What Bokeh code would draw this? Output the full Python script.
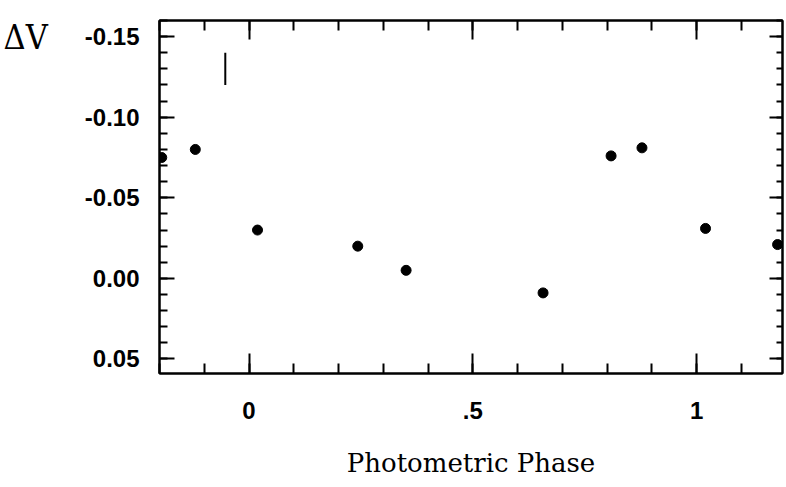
from bokeh.plotting import figure
from bokeh.models import (Range1d, LinearAxis, FixedTicker, NumeralTickFormatter,
                          CustomJSTickFormatter)
from bokeh.embed import file_html
from bokeh.resources import INLINE

# ---- data ----
phase = [-0.195, -0.120, 0.019, 0.243, 0.351, 0.657, 0.809, 0.878, 1.020, 1.181]
delta_v = [-0.075, -0.080, -0.030, -0.020, -0.005, 0.009, -0.076, -0.081, -0.031, -0.021]

err_phase = [-0.053]
err_top = [-0.140]
err_bottom = [-0.120]

x_major = [0.0, 0.5, 1.0]
x_minor = [-0.2, -0.1, 0.0, 0.1, 0.2, 0.3, 0.4, 0.5, 0.6, 0.7, 0.8, 0.9, 1.0, 1.1]
y_major = [-0.15, -0.10, -0.05, 0.00, 0.05]
y_minor = [-0.16, -0.15, -0.14, -0.13, -0.12, -0.11, -0.10, -0.09, -0.08, -0.07,
           -0.06, -0.05, -0.04, -0.03, -0.02, -0.01, 0.00, 0.01, 0.02, 0.03, 0.04, 0.05]

x_title = "Photometric Phase"
y_title = "\n\u0394V"

p = figure(width=786, height=487, output_backend="svg", toolbar_location=None,
           x_range=Range1d(-0.2, 1.192), y_range=Range1d(0.059, -0.160),
           min_border_left=156, min_border_right=4, min_border_top=20,
           min_border_bottom=114)
p.grid.visible = False
p.outline_line_color = "black"
p.outline_line_width = 2
p.background_fill_color = "white"
p.border_fill_color = "white"

xt = FixedTicker(ticks=x_major, minor_ticks=x_minor)
yt = FixedTicker(ticks=y_major, minor_ticks=y_minor)
xfmt = CustomJSTickFormatter(code="return tick == 0 ? '0' : (tick == 0.5 ? '.5' : tick.toFixed(0));")
blank = CustomJSTickFormatter(code="return '';")

def style(ax, maj, mnr):
    ax.axis_line_color = "black"
    ax.axis_line_width = 2
    ax.major_tick_line_color = "black"
    ax.minor_tick_line_color = "black"
    ax.major_tick_line_width = 2
    ax.minor_tick_line_width = 2
    ax.major_tick_in = maj
    ax.major_tick_out = 0
    ax.minor_tick_in = mnr
    ax.minor_tick_out = 0
    ax.major_label_text_font = "Liberation Sans"
    ax.major_label_text_font_size = "24px"
    ax.major_label_text_font_style = "bold"
    ax.major_label_text_color = "black"

xa = p.xaxis[0]
xa.ticker = xt
xa.formatter = xfmt
style(xa, 20, 10)
xa.major_label_standoff = 28
xa.axis_label = x_title
xa.axis_label_text_font = "DejaVu Serif"
xa.axis_label_text_font_size = "26px"
xa.axis_label_text_font_style = "normal"
xa.axis_label_text_color = "black"
xa.axis_label_standoff = 26

ya = p.yaxis[0]
ya.ticker = yt
ya.formatter = NumeralTickFormatter(format="0.00")
style(ya, 15, 8)
ya.major_label_standoff = 20
ya.axis_label = y_title
ya.axis_label_text_font = "'DejaVu Serif Condensed', 'DejaVu Serif', serif"
ya.axis_label_text_font_size = "34px"
ya.axis_label_text_font_style = "normal"
ya.axis_label_text_color = "black"
ya.axis_label_text_line_height = 0.8
ya.axis_label_standoff = 34
ya.axis_label_orientation = "horizontal"
ya.axis_label_align = "start"

top = LinearAxis(ticker=FixedTicker(ticks=x_major, minor_ticks=x_minor), formatter=blank)
style(top, 19, 10)
top.major_label_standoff = 0
p.add_layout(top, "above")

right = LinearAxis(ticker=FixedTicker(ticks=y_major, minor_ticks=y_minor), formatter=blank)
style(right, 13, 6)
right.major_label_standoff = 0
p.add_layout(right, "right")

p.segment(x0=err_phase, y0=err_top, x1=err_phase, y1=err_bottom,
          line_color="black", line_width=2)
p.scatter(phase, delta_v, size=10, fill_color="black", line_color="black")

open("out.html", "w", encoding="utf-8").write(file_html(p, INLINE))
